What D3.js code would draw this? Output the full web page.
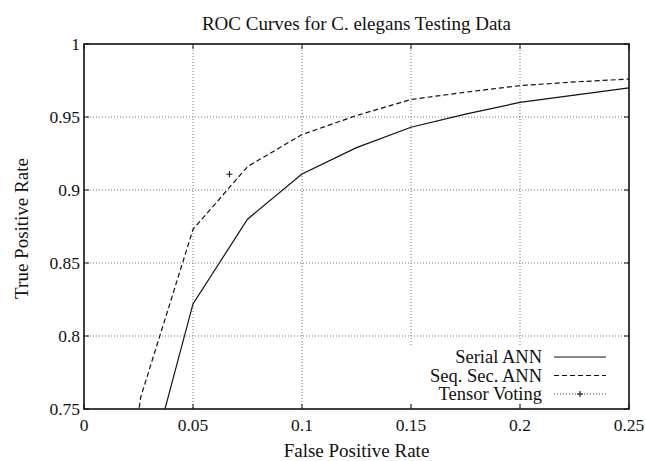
<!DOCTYPE html>
<html>
<head>
<meta charset="utf-8">
<script src="https://cdn.jsdelivr.net/npm/d3@7"></script>
<style>
  body { margin: 0; background: #fff; }
  text { font-family: "Liberation Serif", "DejaVu Serif", serif; fill: #111; }
</style>
</head>
<body>
<svg id="chart" width="645" height="461"></svg>
<script>
// Data
const serialFpr = [0.035, 0.05, 0.075, 0.1, 0.125, 0.15, 0.175, 0.2, 0.25];
const serialTpr = [0.738, 0.822, 0.880, 0.911, 0.929, 0.943, 0.952, 0.960, 0.970];
const seqFpr = [0.0243, 0.026, 0.05, 0.075, 0.1, 0.125, 0.15, 0.175, 0.2, 0.225, 0.25];
const seqTpr = [0.740, 0.758, 0.873, 0.916, 0.938, 0.951, 0.962, 0.967, 0.9715, 0.974, 0.976];
const tensorFpr = [0.0667];
const tensorTpr = [0.9108];

const xTicks = [0, 0.05, 0.1, 0.15, 0.2, 0.25];
const yTicks = [0.75, 0.8, 0.85, 0.9, 0.95, 1];
const legendNames = ["Serial ANN", "Seq. Sec. ANN", "Tensor Voting"];

const svg = d3.select("#chart");
const margin = {left: 84, top: 44, right: 629, bottom: 409};

const x = d3.scaleLinear().domain([0, 0.25]).range([margin.left, margin.right]);
const y = d3.scaleLinear().domain([0.75, 1]).range([margin.bottom, margin.top]);

// clip for the curves
svg.append("defs").append("clipPath").attr("id", "plotClip")
  .append("rect")
  .attr("x", margin.left).attr("y", margin.top)
  .attr("width", margin.right - margin.left).attr("height", margin.bottom - margin.top);

// Grid (dotted)
const grid = svg.append("g");
grid.selectAll("line.gx")
  .data(xTicks.slice(1, -1))
  .enter().append("line")
  .attr("x1", d => x(d)).attr("x2", d => x(d))
  .attr("y1", margin.top).attr("y2", margin.bottom)
  .attr("stroke", "#777").attr("stroke-width", 1).attr("stroke-dasharray", "1,2");
grid.selectAll("line.gy")
  .data(yTicks.slice(1, -1))
  .enter().append("line")
  .attr("y1", d => y(d)).attr("y2", d => y(d))
  .attr("x1", margin.left).attr("x2", margin.right)
  .attr("stroke", "#777").attr("stroke-width", 1).attr("stroke-dasharray", "1,2");

// Curves
const line = d3.line().x(d => x(d[0])).y(d => y(d[1]));
const curves = svg.append("g").attr("clip-path", "url(#plotClip)");
curves.append("path")
  .datum(d3.zip(serialFpr, serialTpr))
  .attr("d", line).attr("fill", "none")
  .attr("stroke", "#111").attr("stroke-width", 1.2);
curves.append("path")
  .datum(d3.zip(seqFpr, seqTpr))
  .attr("d", line).attr("fill", "none")
  .attr("stroke", "#111").attr("stroke-width", 1.2).attr("stroke-dasharray", "5,3");
curves.selectAll("path.tv")
  .data(d3.zip(tensorFpr, tensorTpr))
  .enter().append("path")
  .attr("d", d => `M${x(d[0]) - 3},${y(d[1])}h6M${x(d[0])},${y(d[1]) - 3}v6`)
  .attr("stroke", "#111").attr("stroke-width", 1.1).attr("fill", "none");

// Legend (white box blanks the grid behind it)
const legend = svg.append("g");
legend.append("rect")
  .attr("x", 396).attr("y", 346).attr("width", 220).attr("height", 56)
  .attr("fill", "#fff");
const rowY = i => 357 + i * 18.5;
legend.selectAll("text")
  .data(legendNames)
  .enter().append("text")
  .attr("x", 542).attr("y", (d, i) => rowY(i))
  .attr("dy", "0.35em")
  .attr("text-anchor", "end")
  .attr("font-size", 18.5)
  .text(d => d);
legend.append("line").attr("x1", 554).attr("x2", 606).attr("y1", rowY(0)).attr("y2", rowY(0))
  .attr("stroke", "#111").attr("stroke-width", 1.2);
legend.append("line").attr("x1", 554).attr("x2", 606).attr("y1", rowY(1)).attr("y2", rowY(1))
  .attr("stroke", "#111").attr("stroke-width", 1.2).attr("stroke-dasharray", "5,3");
legend.append("line").attr("x1", 554).attr("x2", 606).attr("y1", rowY(2)).attr("y2", rowY(2))
  .attr("stroke", "#333").attr("stroke-width", 1).attr("stroke-dasharray", "1,2");
legend.append("path")
  .attr("d", `M577,${rowY(2)}h6M580,${rowY(2) - 3}v6`)
  .attr("stroke", "#111").attr("stroke-width", 1.1);

// Axes: frame with inward ticks on all four sides
const tickLen = 5;
const axes = svg.append("g");
axes.selectAll("line.tb")
  .data(xTicks)
  .enter().append("line")
  .attr("x1", d => x(d)).attr("x2", d => x(d))
  .attr("y1", margin.bottom).attr("y2", margin.bottom - tickLen)
  .attr("stroke", "#111").attr("stroke-width", 1);
axes.selectAll("line.tt")
  .data(xTicks)
  .enter().append("line")
  .attr("x1", d => x(d)).attr("x2", d => x(d))
  .attr("y1", margin.top).attr("y2", margin.top + tickLen)
  .attr("stroke", "#111").attr("stroke-width", 1);
axes.selectAll("line.tl")
  .data(yTicks)
  .enter().append("line")
  .attr("y1", d => y(d)).attr("y2", d => y(d))
  .attr("x1", margin.left).attr("x2", margin.left + tickLen)
  .attr("stroke", "#111").attr("stroke-width", 1);
axes.selectAll("line.tr")
  .data(yTicks)
  .enter().append("line")
  .attr("y1", d => y(d)).attr("y2", d => y(d))
  .attr("x1", margin.right).attr("x2", margin.right - tickLen)
  .attr("stroke", "#111").attr("stroke-width", 1);
axes.append("rect")
  .attr("x", margin.left).attr("y", margin.top)
  .attr("width", margin.right - margin.left).attr("height", margin.bottom - margin.top)
  .attr("fill", "none").attr("stroke", "#111").attr("stroke-width", 1.6);

// Tick labels
const fmt = d => String(d);
axes.selectAll("text.xl")
  .data(xTicks)
  .enter().append("text")
  .attr("x", d => x(d)).attr("y", 431)
  .attr("text-anchor", "middle").attr("font-size", 17.5)
  .text(fmt);
axes.selectAll("text.yl")
  .data(yTicks)
  .enter().append("text")
  .attr("x", 80).attr("y", d => y(d))
  .attr("dy", "0.35em")
  .attr("text-anchor", "end").attr("font-size", 17.5)
  .text(fmt);

// Titles
svg.append("text")
  .attr("x", (margin.left + margin.right) / 2).attr("y", 30)
  .attr("text-anchor", "middle").attr("font-size", 19)
  .text("ROC Curves for C. elegans Testing Data");
svg.append("text")
  .attr("x", (margin.left + margin.right) / 2).attr("y", 457)
  .attr("text-anchor", "middle").attr("font-size", 19)
  .text("False Positive Rate");
svg.append("text")
  .attr("transform", `translate(28,${(margin.top + margin.bottom) / 2 + 2}) rotate(-90)`)
  .attr("text-anchor", "middle").attr("font-size", 19)
  .text("True Positive Rate");
</script>
</body>
</html>
